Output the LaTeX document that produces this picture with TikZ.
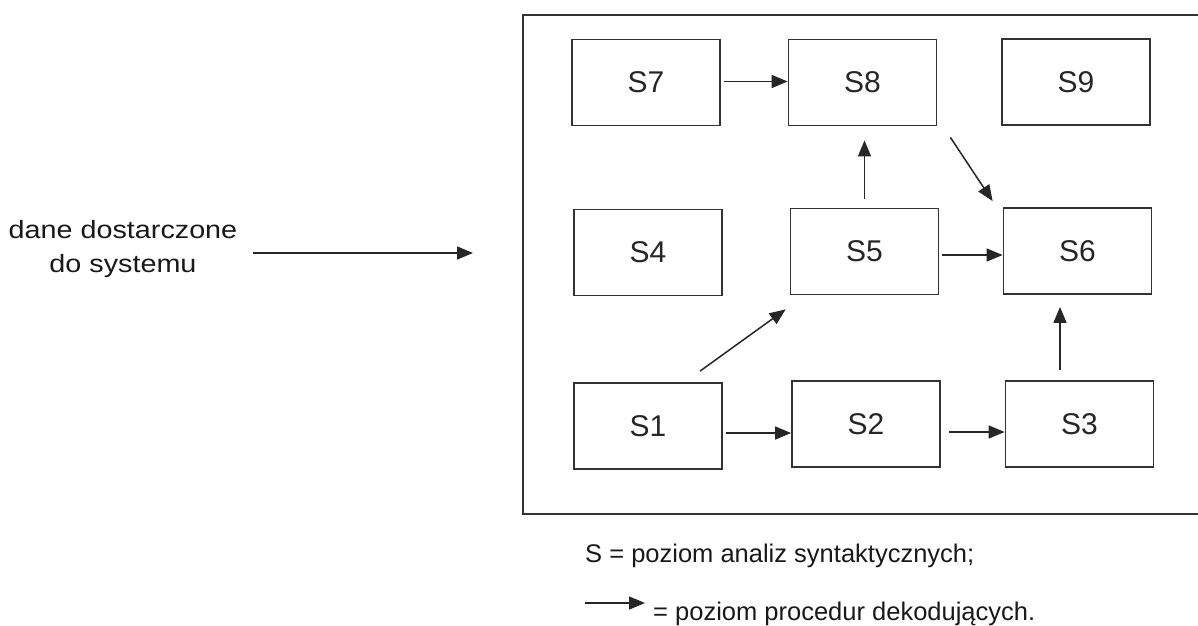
\documentclass[tikz,border=0pt]{standalone}
\usepackage{fontspec}
\setmainfont{Liberation Sans}
\newfontfamily\stretchfont{Liberation Sans}[FakeStretch=1.15]
\usetikzlibrary{arrows.meta,calc}
\begin{document}
\begin{tikzpicture}[x=1pt,y=-1pt,
  sbox/.style={draw=black!80, line width=1.8pt, minimum width=148pt, minimum height=86pt,
    inner sep=0pt, font=\fontsize{30}{36}\selectfont, text=black!85},
  arr/.style={draw=black!85, line width=1.5pt, -{Triangle[length=16pt,width=13pt]}},
  lbl/.style={inner sep=0pt, text=black!90}]
\useasboundingbox (0,0) rectangle (1198,625);

% outer frame (right side runs off the picture)
\draw[line width=1.8pt, draw=black!80] (1198,15) -- (523,15) -- (523,514) -- (1198,514);

% boxes
\node[sbox] (s7) at (646,82.5) {S7};
\node[sbox] (s8) at (862.5,82.5) {S8};
\node[sbox] (s9) at (1076,82) {S9};
\node[sbox] (s4) at (648,252.5) {S4};
\node[sbox] (s5) at (864.5,251.5) {S5};
\node[sbox] (s6) at (1077.5,251) {S6};
\node[sbox] (s1) at (648,426) {S1};
\node[sbox] (s2) at (866,424) {S2};
\node[sbox] (s3) at (1079.5,424) {S3};

% connectors
\draw[arr] ([xshift=3pt,yshift=1pt]s7.east) coordinate (c78) -- (c78 -| s8.west);
\draw[arr] ([yshift=9pt]s5.north) coordinate (c58) -- ($(c58 |- s8.south)+(0,14)$);
\draw[arr] ([xshift=13pt,yshift=-11pt]s8.south east) -- ([xshift=-10pt,yshift=6pt]s6.north west);
\draw[arr] ([xshift=3pt,yshift=-3.5pt]s5.east) coordinate (c56) -- (c56 -| s6.west);
\draw[arr] ([xshift=-19.5pt,yshift=10pt]s3.north) coordinate (c36) -- ($(c36 |- s6.south)+(0,12)$);
\draw[arr] ([xshift=3pt,yshift=-7pt]s1.east) coordinate (c12) -- (c12 -| s2.west);
\draw[arr] ([xshift=8pt,yshift=-8pt]s2.east) coordinate (c23) -- (c23 -| s3.west);
\draw[arr] ([xshift=52pt,yshift=11pt]s1.north) -- ([xshift=-4pt,yshift=-14pt]s5.south west);

% input
\node[lbl, font=\stretchfont\fontsize{25}{34}\selectfont, align=center, anchor=north] (inp) at (123,220) {dane dostarczone\\do systemu};
\coordinate (inend) at (473,253);
\draw[arr] ($(inp.east |- inend)+(16,0)$) -- (inend);

% legend
\node[lbl, anchor=base west, font=\fontsize{25.5}{30}\selectfont] (leg1) at (585,562) {S = poziom analiz syntaktycznych;};
\node[lbl, anchor=base west, font=\fontsize{25.5}{30}\selectfont] (leg2) at (653,620) {= poziom procedur dekodujących.};
\coordinate (legstart) at (585,603);
\draw[arr] (legstart) -- ($(leg2.west |- legstart)+(-8,0)$);
\end{tikzpicture}
\end{document}
